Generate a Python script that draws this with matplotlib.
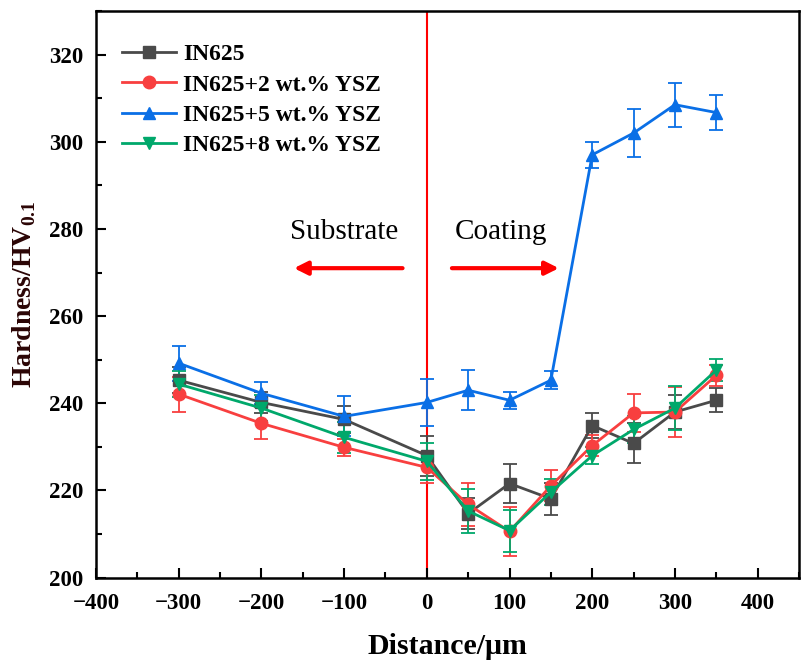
import numpy as np
import matplotlib
matplotlib.use('Agg')
import matplotlib.pyplot as plt
from matplotlib.ticker import MultipleLocator
from matplotlib.lines import Line2D

plt.rcParams['font.family'] = ['Liberation Serif', 'DejaVu Serif']
plt.rcParams['mathtext.fontset'] = 'custom'
plt.rcParams['mathtext.rm'] = 'Liberation Serif:bold'
plt.rcParams['mathtext.bf'] = 'Liberation Serif:bold'

distance = [-300, -200, -100, 0, 50, 100, 150, 200, 250, 300, 350]

in625 = [245.3, 240.2, 236.3, 228.0, 214.7, 221.6, 218.1, 234.9, 230.8, 238.0, 240.7]
in625_err = [3.0, 2.5, 3.0, 4.6, 3.5, 4.4, 3.7, 2.8, 4.6, 4.0, 2.8]

ysz2 = [242.1, 235.4, 229.9, 225.3, 216.8, 210.6, 221.1, 230.3, 237.8, 238.0, 246.4]
ysz2_err = [4.0, 3.7, 2.0, 3.5, 5.0, 5.6, 3.5, 2.5, 4.3, 5.8, 2.5]

ysz5 = [249.2, 242.3, 237.0, 240.2, 243.0, 240.7, 245.3, 297.0, 302.0, 308.5, 306.7]
ysz5_err = [4.0, 2.5, 4.6, 5.3, 4.6, 2.0, 2.0, 3.0, 5.5, 5.0, 4.0]

ysz8 = [244.4, 238.9, 232.2, 226.7, 215.3, 210.8, 219.6, 228.0, 234.0, 238.9, 247.6]
ysz8_err = [3.0, 3.0, 3.5, 4.3, 5.0, 4.8, 3.0, 2.0, 3.0, 5.0, 2.5]

series = [
    ('IN625', in625, in625_err, '#4a4a4a', 's'),
    ('IN625+2 wt.% YSZ', ysz2, ysz2_err, '#f83f3f', 'o'),
    ('IN625+5 wt.% YSZ', ysz5, ysz5_err, '#0a6fe6', '^'),
    ('IN625+8 wt.% YSZ', ysz8, ysz8_err, '#00a86b', 'v'),
]

fig = plt.figure(figsize=(8.09, 6.7), dpi=100)
ax = fig.add_axes([0.1187, 0.1378, 0.8689, 0.8458])

handles = []
for name, vals, errs, col, mk in series:
    ax.errorbar(distance, vals, yerr=errs, color=col, marker=mk, markersize=9,
                linewidth=2, capsize=5, elinewidth=1.3, capthick=1.3)
    handles.append(Line2D([], [], color=col, marker=mk, markersize=9,
                          linewidth=2, label=name))

ax.axvline(0, color='red', linewidth=1.5, zorder=0)

ax.text(-100, 279.3, 'Substrate', fontsize=21, ha='center', va='center')
ax.text(90, 279.3, 'Coating', fontsize=21, ha='center', va='center')
ax.annotate('', xy=(-164, 271), xytext=(-26, 271),
            arrowprops=dict(arrowstyle='-|>', color='red', lw=3, mutation_scale=20))
ax.annotate('', xy=(163, 271), xytext=(27, 271),
            arrowprops=dict(arrowstyle='-|>', color='red', lw=3, mutation_scale=20))

ax.set_xlim(-400, 450)
ax.set_ylim(200, 330)
ax.xaxis.set_major_locator(MultipleLocator(100))
ax.xaxis.set_minor_locator(MultipleLocator(50))
ax.yaxis.set_major_locator(MultipleLocator(20))
ax.yaxis.set_minor_locator(MultipleLocator(10))
ax.tick_params(which='both', direction='in', width=1.5, labelsize=16.5)
ax.tick_params(axis='x', which='major', pad=11)
ax.tick_params(axis='y', which='major', pad=9)
ax.tick_params(which='major', length=7)
ax.tick_params(which='minor', length=4)
for lab in ax.get_xticklabels() + ax.get_yticklabels():
    lab.set_fontweight('bold')
for sp in ax.spines.values():
    sp.set_linewidth(1.8)

ax.set_xlabel('Distance/μm', fontsize=21.5, fontweight='bold', labelpad=14)
ax.set_ylabel(r'Hardness/HV$_{\mathbf{0.1}}$', fontsize=20, fontweight='bold',
              color='#2b0505', labelpad=8)

ax.legend(handles=handles, loc='upper left', bbox_to_anchor=(0, 0.988),
          frameon=False, prop={'weight': 'bold', 'size': 17}, handlelength=2.3,
          handletextpad=0.3, labelspacing=0.37, borderaxespad=0.7,
          borderpad=0.4)

fig.savefig('out.png', dpi=100)
